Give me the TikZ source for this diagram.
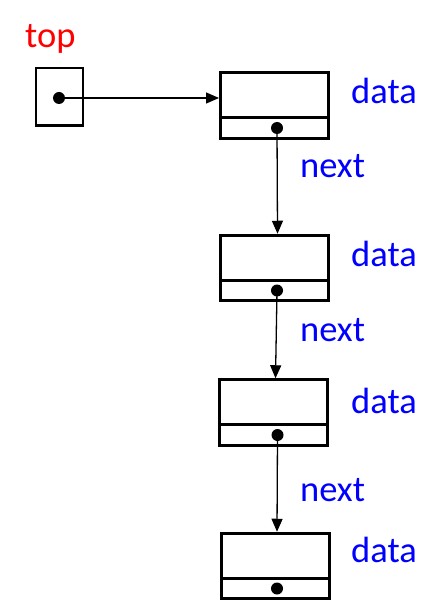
\documentclass[tikz,border=0pt]{standalone}
\usepackage{fontspec}
\setmainfont{Carlito}
\usetikzlibrary{arrows.meta}
\definecolor{ptrred}{RGB}{255,0,0}
\definecolor{lblblue}{RGB}{0,0,255}
\begin{document}
\begin{tikzpicture}[x=1pt,y=-1pt,
  cell/.style={draw=black,line width=3pt,minimum width=108pt,inner sep=0pt,outer sep=0pt},
  datacell/.style={cell,minimum height=45pt},
  nextcell/.style={cell,minimum height=20.5pt},
  ptrbox/.style={draw=black,line width=2.5pt,minimum width=47pt,minimum height=57.5pt,inner sep=0pt},
  dot/.style={circle,fill=black,minimum size=12pt,inner sep=0pt},
  link/.style={line width=1.3pt,-{Triangle[length=13pt,width=11pt]}},
  lbl/.style={font=\fontsize{36.5}{40}\selectfont,text=lblblue,anchor=base west,inner sep=0pt},
  toplbl/.style={font=\fontsize{36.5}{40}\selectfont,text=ptrred,anchor=base west,inner sep=0pt}]
\useasboundingbox (0,0) rectangle (444,601);

% the top pointer
\node[toplbl] (toptext) at (25,48) {top};
\node[ptrbox] (topbox) at (59.5,97) {};
\node[dot] (topdot) at (59,98) {};

% list cells: data part above, next part below
\node[datacell] (d1) at (274.5,95.25) {};
\node[nextcell,anchor=north] (n1) at (d1.south) {};
\node[datacell] (d2) at (274.5,257.75) {};
\node[nextcell,anchor=north] (n2) at (d2.south) {};
\node[datacell] (d3) at (273,402.25) {};
\node[nextcell,anchor=north] (n3) at (d3.south) {};
\node[datacell] (d4) at (275,555.75) {};
\node[nextcell,anchor=north] (n4) at (d4.south) {};

% pointer dots in the next fields
\node[dot] (p1) at ([xshift=2.5pt]n1.center) {};
\node[dot] (p2) at ([xshift=2.5pt]n2.center) {};
\node[dot] (p3) at ([xshift=4.5pt]n3.center) {};
\node[dot] (p4) at ([xshift=2pt]n4.center) {};

% links
\draw[link] (topdot.center) -- ([xshift=-1.5pt]topdot.center -| d1.west);
\draw[link] (p1.center) -- ([xshift=3pt,yshift=1.5pt]d2.north);
\draw[link] (p2.center) -- ([xshift=2.5pt,yshift=1.5pt]d3.north);
\draw[link] (p3.center) -- ([xshift=2pt,yshift=1.5pt]d4.north);

% field labels
\node[lbl] (l1) at (351,104) {data};
\node[lbl] (l2) at (351,266) {data};
\node[lbl] (l3) at (351,413) {data};
\node[lbl] (l4) at (351,562) {data};
\node[lbl] (x1) at (300,178) {next};
\node[lbl] (x2) at (300,341) {next};
\node[lbl] (x3) at (300,501) {next};
\end{tikzpicture}
\end{document}
